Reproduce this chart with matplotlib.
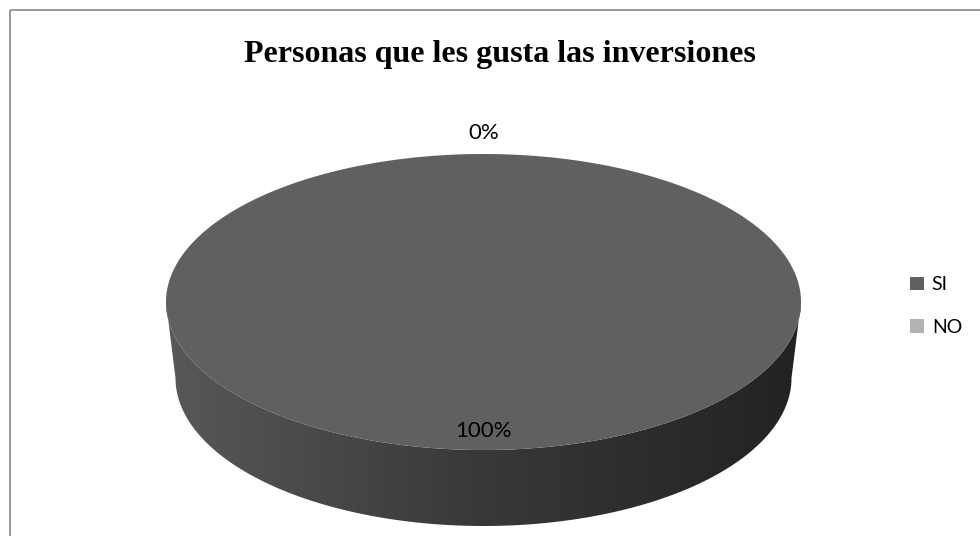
import numpy as np
import matplotlib
matplotlib.use("Agg")
import matplotlib.pyplot as plt
from matplotlib.patches import Polygon, Rectangle, Patch
from matplotlib.colors import LinearSegmentedColormap

# data
labels = ["SI", "NO"]
values = [100, 0]
pct_labels = ["100%", "0%"]
colors = ["#606060", "#b2b2b2"]
title = "Personas que les gusta las inversiones"

W, H = 980, 536
# top face ellipse and (slightly smaller, perspective) bottom ellipse
CX, CY, RX, RY = 483.5, 302.0, 317.5, 148.0
BCY, BRX, BRY = 378.0, 308.0, 148.0

fig = plt.figure(figsize=(W / 100, H / 100), dpi=100)
ax = fig.add_axes([0, 0, 1, 1])
ax.set_xlim(0, W)
ax.set_ylim(H, 0)
ax.axis("off")

# chart frame
ax.add_patch(Rectangle((10, 10), W + 20, H + 20, fill=False, edgecolor="#868686", lw=1.2))


def ell(t, cy=CY, rx=RX, ry=RY):
    # t in degrees, clockwise from 12 o'clock
    r = np.radians(t)
    return CX + rx * np.sin(r), cy - ry * np.cos(r)


side_cmap = LinearSegmentedColormap.from_list("side", ["#585858", "#383838", "#222222"])
grad = np.linspace(0, 1, 400).reshape(1, -1)

total = float(sum(values))
start = 0.0
for lab, val, pct, col in zip(labels, values, pct_labels, colors):
    sweep = 360.0 * val / total
    end = start + sweep
    mid = start + sweep / 2

    # visible front side (between 90 and 270 degrees)
    a, b = max(start, 90.0), min(end, 270.0)
    if b > a:
        t = np.linspace(a, b, 200)
        tx, ty = ell(t)
        bx, by = ell(t[::-1], BCY, BRX, BRY)
        side = Polygon(np.column_stack([np.r_[tx, bx], np.r_[ty, by]]),
                       closed=True, facecolor="none", edgecolor="none")
        ax.add_patch(side)
        im = ax.imshow(grad, cmap=side_cmap, aspect="auto",
                       extent=(CX - RX, CX + RX, BCY + BRY, CY - RY), zorder=1)
        im.set_clip_path(side)

    # top face
    if sweep > 0:
        t = np.linspace(start, end, 400)
        tx, ty = ell(t)
        if sweep < 360:
            tx, ty = np.r_[CX, tx], np.r_[CY, ty]
        ax.add_patch(Polygon(np.column_stack([tx, ty]), closed=True,
                             facecolor=col, edgecolor="none", zorder=2))

    # data label
    r = np.radians(mid)
    k = 0.87 if sweep > 0 else 1.14
    lx, ly = CX + k * RX * np.sin(r), CY - k * RY * np.cos(r)
    ax.text(lx, ly, pct, ha="center", va="center", fontsize=16,
            family="Lato", color="#000000", zorder=3)
    start = end

ax.set_xlim(0, W)
ax.set_ylim(H, 0)

ax.text(500, 62, title, ha="center", va="baseline", fontsize=23,
        family="Liberation Serif", fontweight="bold", color="#000000")

handles = [Patch(facecolor=c, edgecolor="none") for c in colors]
fig.legend(handles, labels, loc="center left", bbox_to_anchor=(910 / W, 1 - 306 / H),
           frameon=False, borderpad=0, borderaxespad=0, handlelength=0.72,
           handleheight=0.72, handletextpad=0.4, labelspacing=1.3,
           prop={"family": "Lato", "size": 14})

fig.savefig("out.png", dpi=100)
